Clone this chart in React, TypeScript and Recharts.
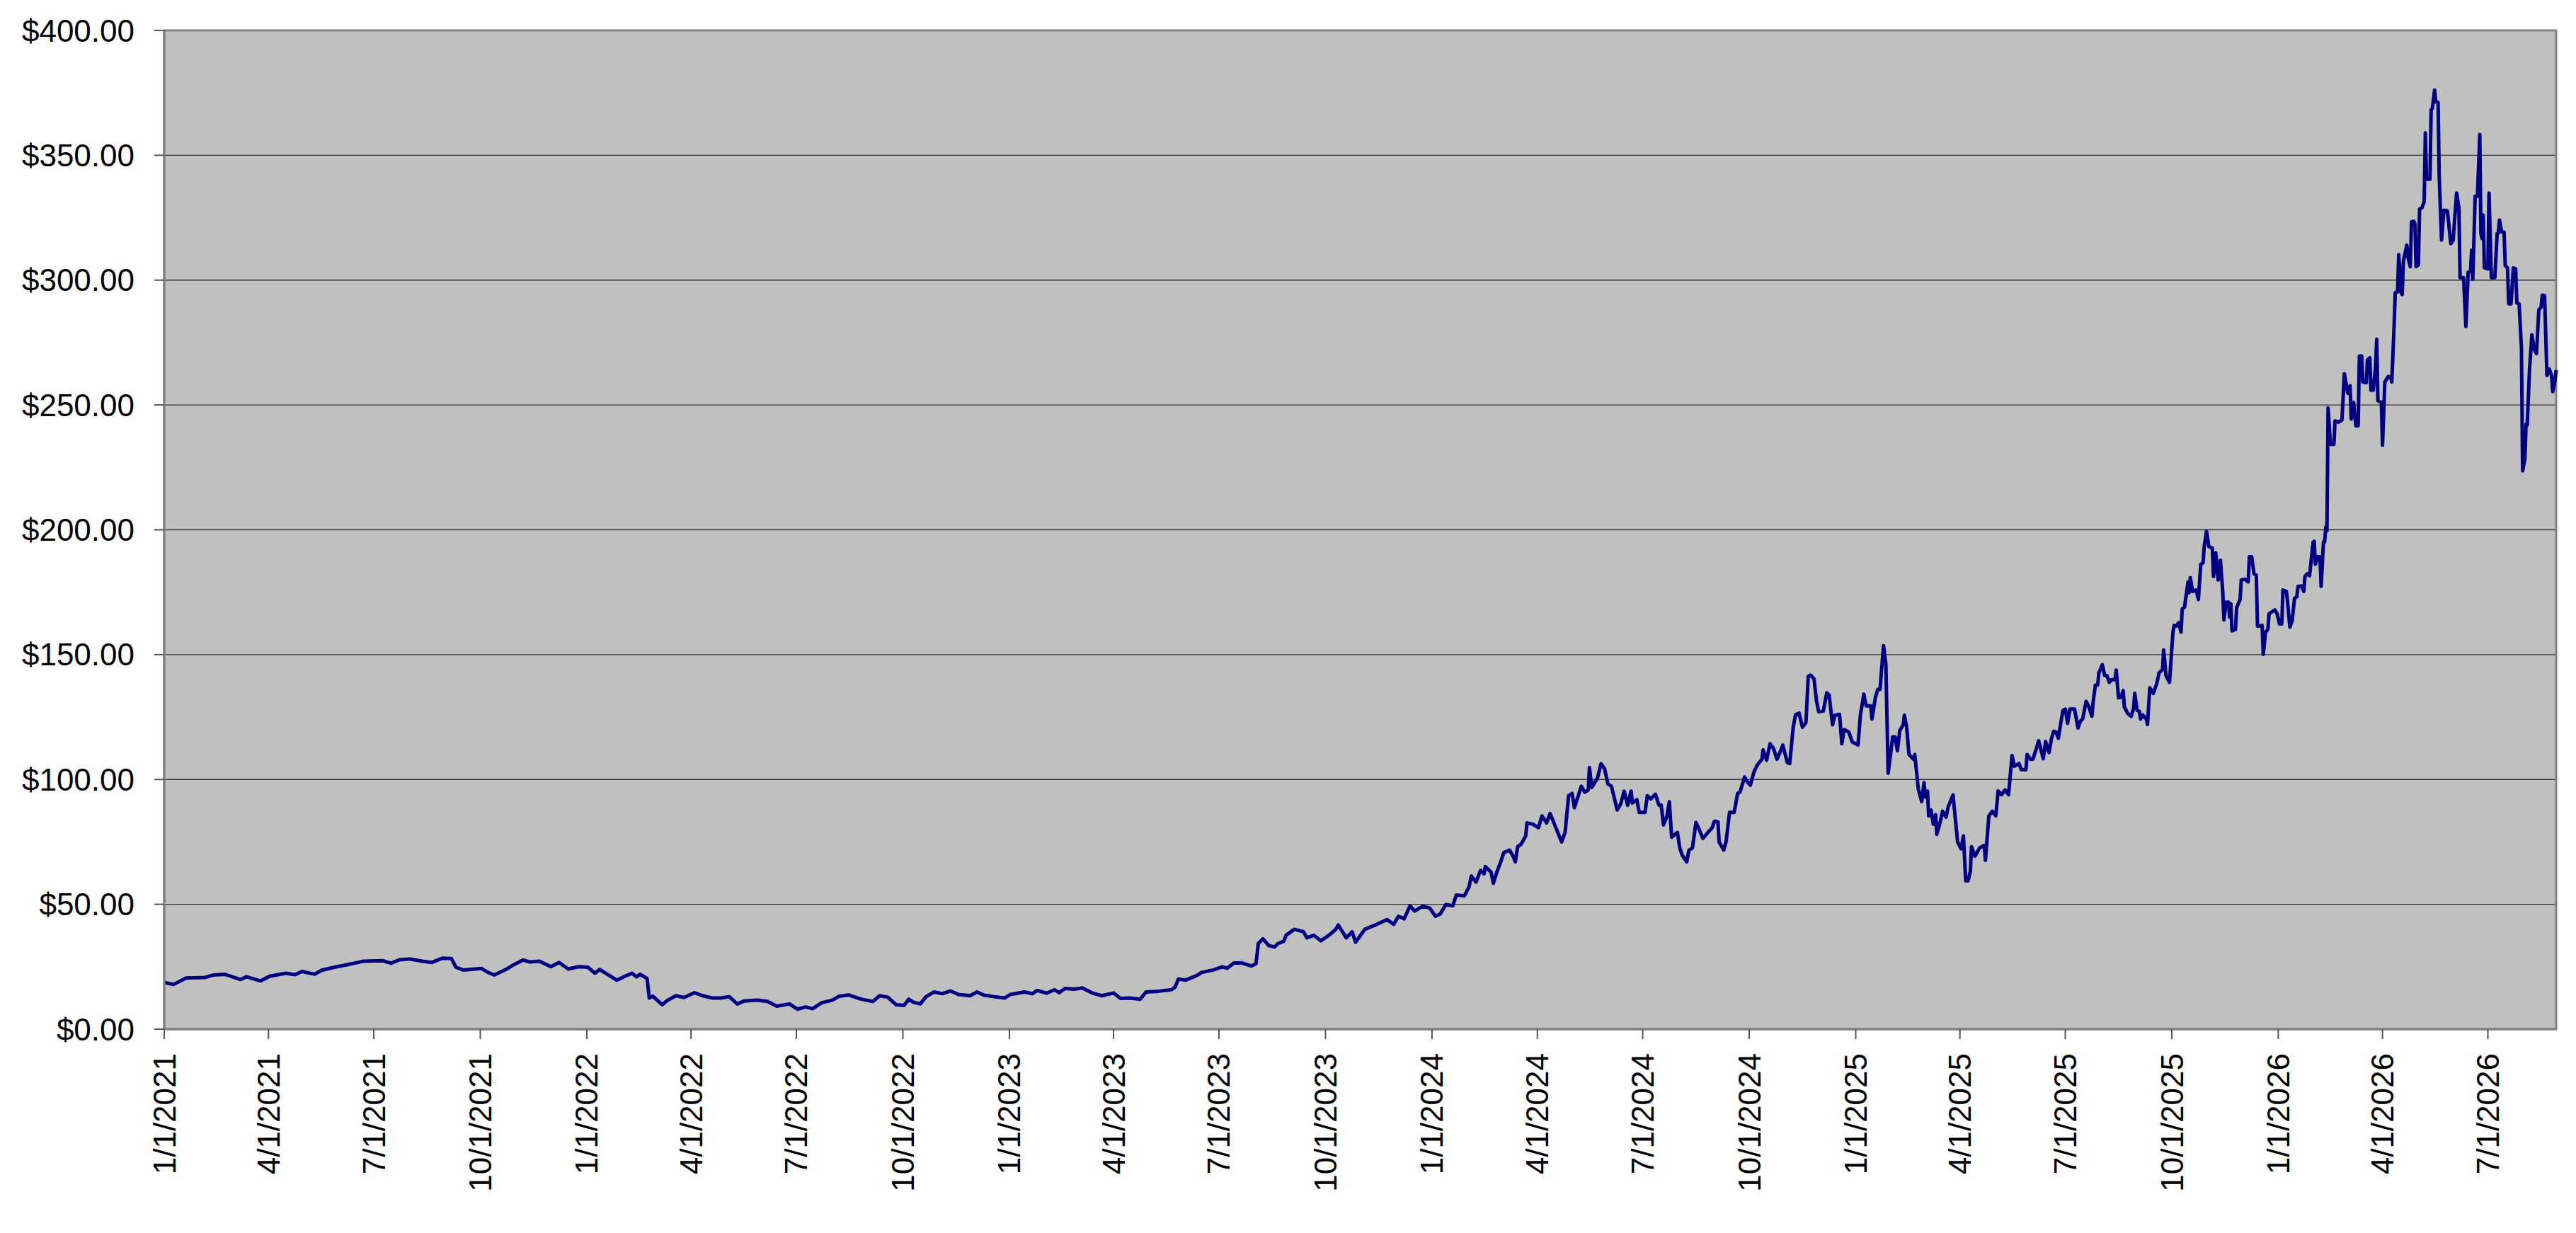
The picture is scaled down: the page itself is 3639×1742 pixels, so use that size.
import * as React from 'react';
import { LineChart, Line, XAxis, YAxis, CartesianGrid, ReferenceArea } from 'recharts';

const FONT = "'Liberation Sans', Arial, Helvetica, sans-serif";
const START_DATE = Date.UTC(2021, 0, 1);
const DAY_MS = 86400000;

const Y_TICKS = [0, 50, 100, 150, 200, 250, 300, 350, 400];

const X_TICK_LABELS = [
  '1/1/2021', '4/1/2021', '7/1/2021', '10/1/2021',
  '1/1/2022', '4/1/2022', '7/1/2022', '10/1/2022',
  '1/1/2023', '4/1/2023', '7/1/2023', '10/1/2023',
  '1/1/2024', '4/1/2024', '7/1/2024', '10/1/2024',
  '1/1/2025', '4/1/2025', '7/1/2025', '10/1/2025',
  '1/1/2026', '4/1/2026', '7/1/2026',
];

// [days since 1/1/2021, close]
const PRICES_2021: [number, number][] = [
  [0, 18.7], [8, 17.9], [19, 20.5], [35, 20.7], [43, 21.7], [52, 22.0], [66, 19.9], [71, 21.0],
  [83, 19.3], [91, 21.2], [105, 22.4], [113, 21.8], [119, 23.1], [130, 22.0], [136, 23.6], [147, 24.8],
  [158, 25.8], [172, 27.2], [189, 27.4], [196, 26.4], [203, 27.8], [212, 28.1], [223, 27.2], [231, 26.7],
  [240, 28.4], [248, 28.3], [252, 24.8], [258, 23.7], [274, 24.3], [279, 22.9], [285, 21.7], [296, 24.1],
  [302, 25.8], [310, 27.7], [316, 26.9], [324, 27.2], [334, 25.0], [341, 26.7], [349, 24.1], [358, 25.0],
  [366, 24.8], [372, 22.4], [376, 23.9], [391, 19.6], [397, 21.0], [404, 22.4],
];

const PRICES_2022: [number, number][] = [
  [408, 21.0], [411, 22.0], [417, 20.3], [419, 12.5], [422, 13.2], [430, 9.8], [435, 11.6], [442, 13.4],
  [449, 12.7], [458, 14.6], [465, 13.4], [473, 12.5], [481, 12.5], [488, 13.0], [495, 10.1], [501, 11.3],
  [512, 11.6], [521, 11.1], [529, 9.2], [540, 10.1], [547, 8.0], [554, 8.9], [560, 8.2], [568, 10.6],
  [577, 11.6], [583, 13.2], [591, 13.7], [602, 12.0], [612, 11.1], [618, 13.4], [625, 12.8], [632, 9.8],
  [639, 9.5], [643, 12.0], [647, 10.8], [653, 10.1], [658, 13.0], [665, 14.9], [672, 14.2], [679, 15.3],
  [686, 13.9], [696, 13.4], [702, 14.9], [708, 13.6], [717, 13.0], [726, 12.5], [731, 13.9], [743, 14.9],
  [750, 14.2], [754, 15.5], [762, 14.4], [769, 15.8], [773, 14.6], [778, 16.3], [786, 16.0], [793, 16.5],
  [802, 14.4], [810, 13.4], [820, 14.5], [826, 12.3], [834, 12.5], [843, 12.0],
];

const PRICES_2023: [number, number][] = [
  [848, 14.9], [859, 15.2], [870, 15.8], [873, 16.8], [876, 20.1], [882, 19.6], [892, 21.5], [896, 22.7],
  [906, 23.7], [914, 25.0], [918, 24.4], [924, 26.5], [931, 26.5], [939, 25.3], [943, 26.2], [945, 34.3],
  [949, 36.2], [954, 33.5], [959, 32.9], [962, 34.3], [967, 35.2], [969, 37.6], [976, 40.0], [984, 39.0],
  [987, 36.6], [993, 37.6], [999, 35.4], [1006, 37.6], [1012, 40.0], [1014, 41.7], [1021, 36.6], [1026, 39.0],
  [1029, 34.8], [1037, 40.0], [1046, 41.7], [1056, 43.9], [1062, 42.0], [1066, 45.2], [1071, 44.2], [1076, 49.4],
  [1080, 47.3], [1087, 49.2], [1093, 48.5],
];

const PRICES_2024: [number, number][] = [
  [1098, 45.2], [1102, 46.1], [1107, 49.9], [1113, 49.4], [1116, 53.7], [1123, 53.4], [1127, 57.0], [1129, 61.3],
  [1133, 58.9], [1137, 63.6], [1140, 62.2], [1141, 65.1], [1146, 62.9], [1148, 58.4], [1151, 62.9], [1154, 66.5],
  [1157, 70.7], [1162, 71.7], [1165, 69.3], [1167, 67.0], [1169, 73.1], [1172, 74.1], [1176, 77.4], [1177, 82.6],
  [1182, 82.1], [1187, 80.7], [1190, 85.4], [1194, 82.6], [1197, 86.4], [1202, 80.7], [1207, 75.0], [1210, 78.8],
  [1213, 93.5], [1216, 94.4], [1218, 88.7], [1221, 93.0], [1224, 97.3], [1227, 94.9], [1230, 95.8], [1231, 104.8],
  [1233, 96.8], [1238, 100.6], [1241, 106.3], [1244, 104.4], [1247, 98.2], [1250, 97.3], [1255, 87.8], [1258, 90.2],
  [1261, 95.3], [1264, 89.7], [1267, 95.4], [1268, 90.6], [1272, 91.9], [1274, 86.8], [1279, 86.8], [1281, 93.5],
  [1284, 92.2], [1288, 94.1], [1291, 89.7], [1293, 89.7], [1295, 81.8], [1298, 85.4], [1300, 91.1], [1302, 76.9],
  [1307, 78.8], [1309, 72.6], [1311, 69.8], [1315, 67.0], [1317, 71.7], [1320, 72.6], [1323, 82.8], [1326, 79.7],
  [1329, 76.4], [1333, 78.6], [1337, 80.7], [1339, 83.3], [1342, 83.0], [1343, 75.0], [1347, 71.7], [1349, 75.0],
  [1352, 86.8], [1356, 86.8], [1359, 94.4], [1361, 94.9], [1365, 101.0], [1368, 98.7], [1370, 97.7], [1373, 102.9],
  [1376, 105.8], [1380, 108.1], [1381, 111.9], [1384, 107.7], [1387, 114.3], [1390, 112.4], [1393, 108.1], [1397, 112.4],
  [1398, 113.8], [1402, 106.7], [1404, 106.4], [1407, 120.9], [1409, 125.9], [1412, 126.6], [1415, 120.9], [1418, 122.8],
  [1420, 141.3], [1422, 141.8], [1425, 140.3], [1427, 131.8], [1429, 127.1], [1433, 127.4], [1436, 134.7], [1438, 133.9],
  [1441, 121.9], [1443, 125.7], [1447, 126.1], [1449, 114.3], [1451, 120.0], [1455, 119.0], [1458, 115.0],
];

const PRICES_2025: [number, number][] = [
  [1463, 113.8], [1465, 125.7], [1468, 134.2], [1470, 129.5], [1474, 129.5], [1475, 124.2], [1478, 132.8], [1480, 136.1],
  [1482, 136.1], [1485, 153.6], [1487, 146.5], [1489, 102.5], [1493, 117.1], [1495, 117.1], [1497, 111.5], [1499, 119.5],
  [1502, 121.9], [1503, 125.7], [1505, 120.9], [1507, 110.0], [1511, 108.1], [1512, 110.0], [1515, 96.3], [1518, 91.1],
  [1520, 98.7], [1521, 93.0], [1523, 95.4], [1524, 85.4], [1526, 87.8], [1528, 82.1], [1530, 85.9], [1531, 78.0],
  [1534, 83.0], [1536, 87.3], [1539, 84.9], [1541, 89.2], [1545, 93.8], [1547, 84.5], [1549, 75.0], [1552, 72.2],
  [1554, 77.4], [1556, 59.4], [1558, 59.4], [1560, 63.2], [1561, 73.1], [1564, 69.3], [1568, 72.6], [1572, 73.6],
  [1573, 67.6], [1576, 85.4], [1579, 87.3], [1582, 85.4], [1584, 95.4], [1587, 93.9], [1590, 95.8], [1593, 93.9],
  [1596, 109.6], [1598, 105.3], [1602, 106.4], [1604, 103.9], [1608, 103.9], [1609, 110.0], [1612, 108.1], [1614, 108.1],
  [1617, 112.4], [1619, 115.5], [1621, 111.9], [1623, 108.3], [1625, 115.2], [1628, 110.8], [1630, 116.2], [1632, 119.3],
  [1634, 119.0], [1636, 116.5], [1638, 122.3], [1640, 127.6], [1642, 128.2], [1644, 122.5], [1646, 128.2], [1650, 128.2],
  [1653, 120.6], [1655, 123.3], [1657, 124.2], [1660, 131.3], [1662, 129.6], [1665, 125.3], [1666, 130.7], [1668, 137.8],
  [1670, 137.8], [1671, 142.7], [1674, 146.0], [1676, 141.6], [1678, 141.6], [1680, 138.9], [1682, 140.0], [1685, 140.0],
  [1686, 143.8], [1688, 132.7], [1690, 132.9], [1692, 135.6], [1693, 129.1], [1696, 126.4], [1699, 125.3], [1701, 128.6],
  [1702, 134.5], [1704, 127.7], [1706, 127.3], [1707, 124.2], [1709, 125.8], [1712, 124.2], [1713, 122.0], [1715, 136.7],
  [1718, 134.5], [1721, 138.4], [1723, 142.7], [1726, 144.0], [1727, 151.9], [1729, 141.6], [1732, 138.9], [1735, 159.0],
  [1736, 161.7], [1738, 161.4], [1740, 162.8], [1742, 159.0], [1743, 168.3], [1745, 169.0], [1748, 179.1], [1749, 174.8],
  [1750, 180.8], [1752, 175.3], [1755, 175.9], [1757, 172.1], [1759, 186.2], [1761, 186.7], [1762, 193.3], [1764, 199.5],
  [1766, 193.3], [1769, 192.7], [1770, 181.3], [1772, 190.8], [1774, 179.9], [1776, 187.8], [1778, 175.3], [1779, 163.9],
  [1781, 171.0], [1783, 171.0], [1784, 165.0], [1785, 170.4], [1786, 159.5], [1789, 160.1], [1790, 168.8], [1793, 172.1],
  [1794, 179.9], [1797, 180.2], [1800, 179.1], [1801, 189.2], [1803, 189.2], [1805, 182.4], [1807, 181.8], [1808, 161.4],
  [1812, 161.7], [1813, 150.1], [1815, 159.0], [1817, 160.1], [1818, 166.4], [1823, 167.9], [1825, 166.4],
];

const PRICES_2026: [number, number][] = [
  [1827, 162.3], [1829, 162.3], [1830, 175.9], [1833, 175.3], [1834, 171.0], [1836, 161.0], [1838, 163.6], [1840, 172.6],
  [1842, 173.1], [1843, 177.3], [1846, 177.5], [1848, 175.3], [1849, 181.3], [1851, 182.4], [1853, 181.6], [1856, 194.9],
  [1857, 195.4], [1858, 186.2], [1860, 189.2], [1862, 189.2], [1863, 177.3], [1865, 195.1], [1866, 195.1], [1867, 201.1],
  [1868, 199.6], [1869, 248.8], [1871, 234.2], [1874, 234.2], [1875, 243.6], [1878, 243.1], [1881, 244.0], [1883, 262.5],
  [1886, 254.7], [1888, 257.7], [1889, 244.3], [1891, 251.0], [1893, 241.6], [1895, 241.6], [1896, 269.6], [1898, 269.6],
  [1899, 259.2], [1902, 258.9], [1903, 268.1], [1905, 268.9], [1906, 255.9], [1908, 255.9], [1910, 265.5], [1911, 276.3],
  [1912, 251.7], [1915, 251.0], [1916, 233.9], [1918, 259.2], [1921, 261.4], [1923, 261.0], [1924, 259.2], [1926, 281.5],
  [1927, 295.0], [1929, 295.3], [1930, 310.2], [1932, 295.0], [1933, 294.2], [1934, 307.6], [1937, 314.0], [1938, 309.1],
  [1940, 305.4], [1941, 323.3], [1943, 323.6], [1944, 322.5], [1945, 305.4], [1947, 306.1], [1948, 328.5], [1950, 328.9],
  [1952, 331.4], [1953, 359.0], [1954, 340.4], [1957, 340.4], [1958, 368.3], [1959, 368.7], [1961, 376.1], [1962, 371.4],
  [1964, 371.2], [1965, 341.1], [1967, 316.0], [1969, 328.0], [1972, 327.7], [1975, 314.6], [1977, 316.0], [1980, 334.9],
  [1982, 329.0], [1983, 301.0], [1986, 301.0], [1988, 281.4], [1990, 303.2], [1992, 303.6], [1993, 312.0], [1994, 300.3],
  [1996, 333.6], [1998, 333.6], [2000, 358.3], [2001, 318.6], [2002, 316.6], [2003, 326.1], [2004, 304.9], [2007, 304.5],
  [2008, 334.9], [2010, 301.0], [2013, 301.0], [2015, 318.6], [2016, 318.8], [2017, 324.0], [2019, 319.2], [2021, 319.2],
  [2022, 305.8], [2024, 304.9], [2025, 290.5], [2027, 290.5], [2029, 304.9], [2031, 304.5], [2032, 290.9], [2034, 290.5],
  [2036, 272.9], [2037, 223.6], [2039, 228.6], [2040, 242.3], [2041, 241.9], [2043, 264.4], [2045, 278.1], [2047, 272.3],
  [2049, 270.6], [2051, 288.0], [2053, 289.2], [2054, 294.0], [2056, 293.8], [2058, 261.8], [2060, 264.4], [2062, 261.8],
  [2063, 255.3], [2065, 259.9], [2066, 264.0],
];

const data = [
  ...PRICES_2021, ...PRICES_2022, ...PRICES_2023, ...PRICES_2024, ...PRICES_2025, ...PRICES_2026,
].map(([day, close]) => ({ t: START_DATE + day * DAY_MS, close }));

const parseLabel = (s: string) => {
  const [m, d, y] = s.split('/').map(Number);
  return Date.UTC(y, m - 1, d);
};

const xTicks = X_TICK_LABELS.map(parseLabel);
const xMin = data[0].t;
const xMax = data[data.length - 1].t;

const formatDate = (t: number) => {
  const d = new Date(t);
  return `${d.getUTCMonth() + 1}/${d.getUTCDate()}/${d.getUTCFullYear()}`;
};

function DateTick(props: any) {
  const { x, y, payload } = props;
  return (
    <text
      x={x}
      y={y}
      transform={`rotate(-90, ${x}, ${y})`}
      textAnchor="end"
      dominantBaseline="central"
      fontSize={44}
      fontFamily={FONT}
      fill="#000"
    >
      {formatDate(payload.value)}
    </text>
  );
}

export default function App() {
  return (
    <div style={{ position: 'absolute', left: 0, top: 0, width: 3639, height: 1742, background: '#fff' }}>
      <LineChart width={3639} height={1742} data={data} margin={{ top: 43, right: 28, bottom: 0, left: 0 }}>
        <CartesianGrid vertical={false} stroke="#333" strokeWidth={1.4} fill="#C0C0C0" />
        <XAxis
          dataKey="t"
          type="number"
          domain={[xMin, xMax]}
          ticks={xTicks}
          interval={0}
          height={288}
          tickSize={14}
          tickMargin={20}
          tick={(p: any) => <DateTick {...p} />}
          axisLine={{ stroke: '#808080', strokeWidth: 3 }}
          tickLine={{ stroke: '#555', strokeWidth: 2 }}
        />
        <YAxis
          type="number"
          domain={[0, 400]}
          ticks={Y_TICKS}
          interval={0}
          width={232}
          tickSize={14}
          tickMargin={28}
          tickFormatter={(v: number) => `$${v.toFixed(2)}`}
          tick={{ fontSize: 44, fill: '#000', fontFamily: FONT }}
          axisLine={{ stroke: '#808080', strokeWidth: 3 }}
          tickLine={{ stroke: '#555', strokeWidth: 2 }}
        />
        <ReferenceArea x1={xMin} x2={xMax} y1={0} y2={400} fill="none" stroke="#808080" strokeWidth={3} />
        <Line
          type="linear"
          dataKey="close"
          stroke="#000080"
          strokeWidth={5}
          strokeLinejoin="round"
          dot={false}
          activeDot={false}
          isAnimationActive={false}
        />
      </LineChart>
    </div>
  );
}
